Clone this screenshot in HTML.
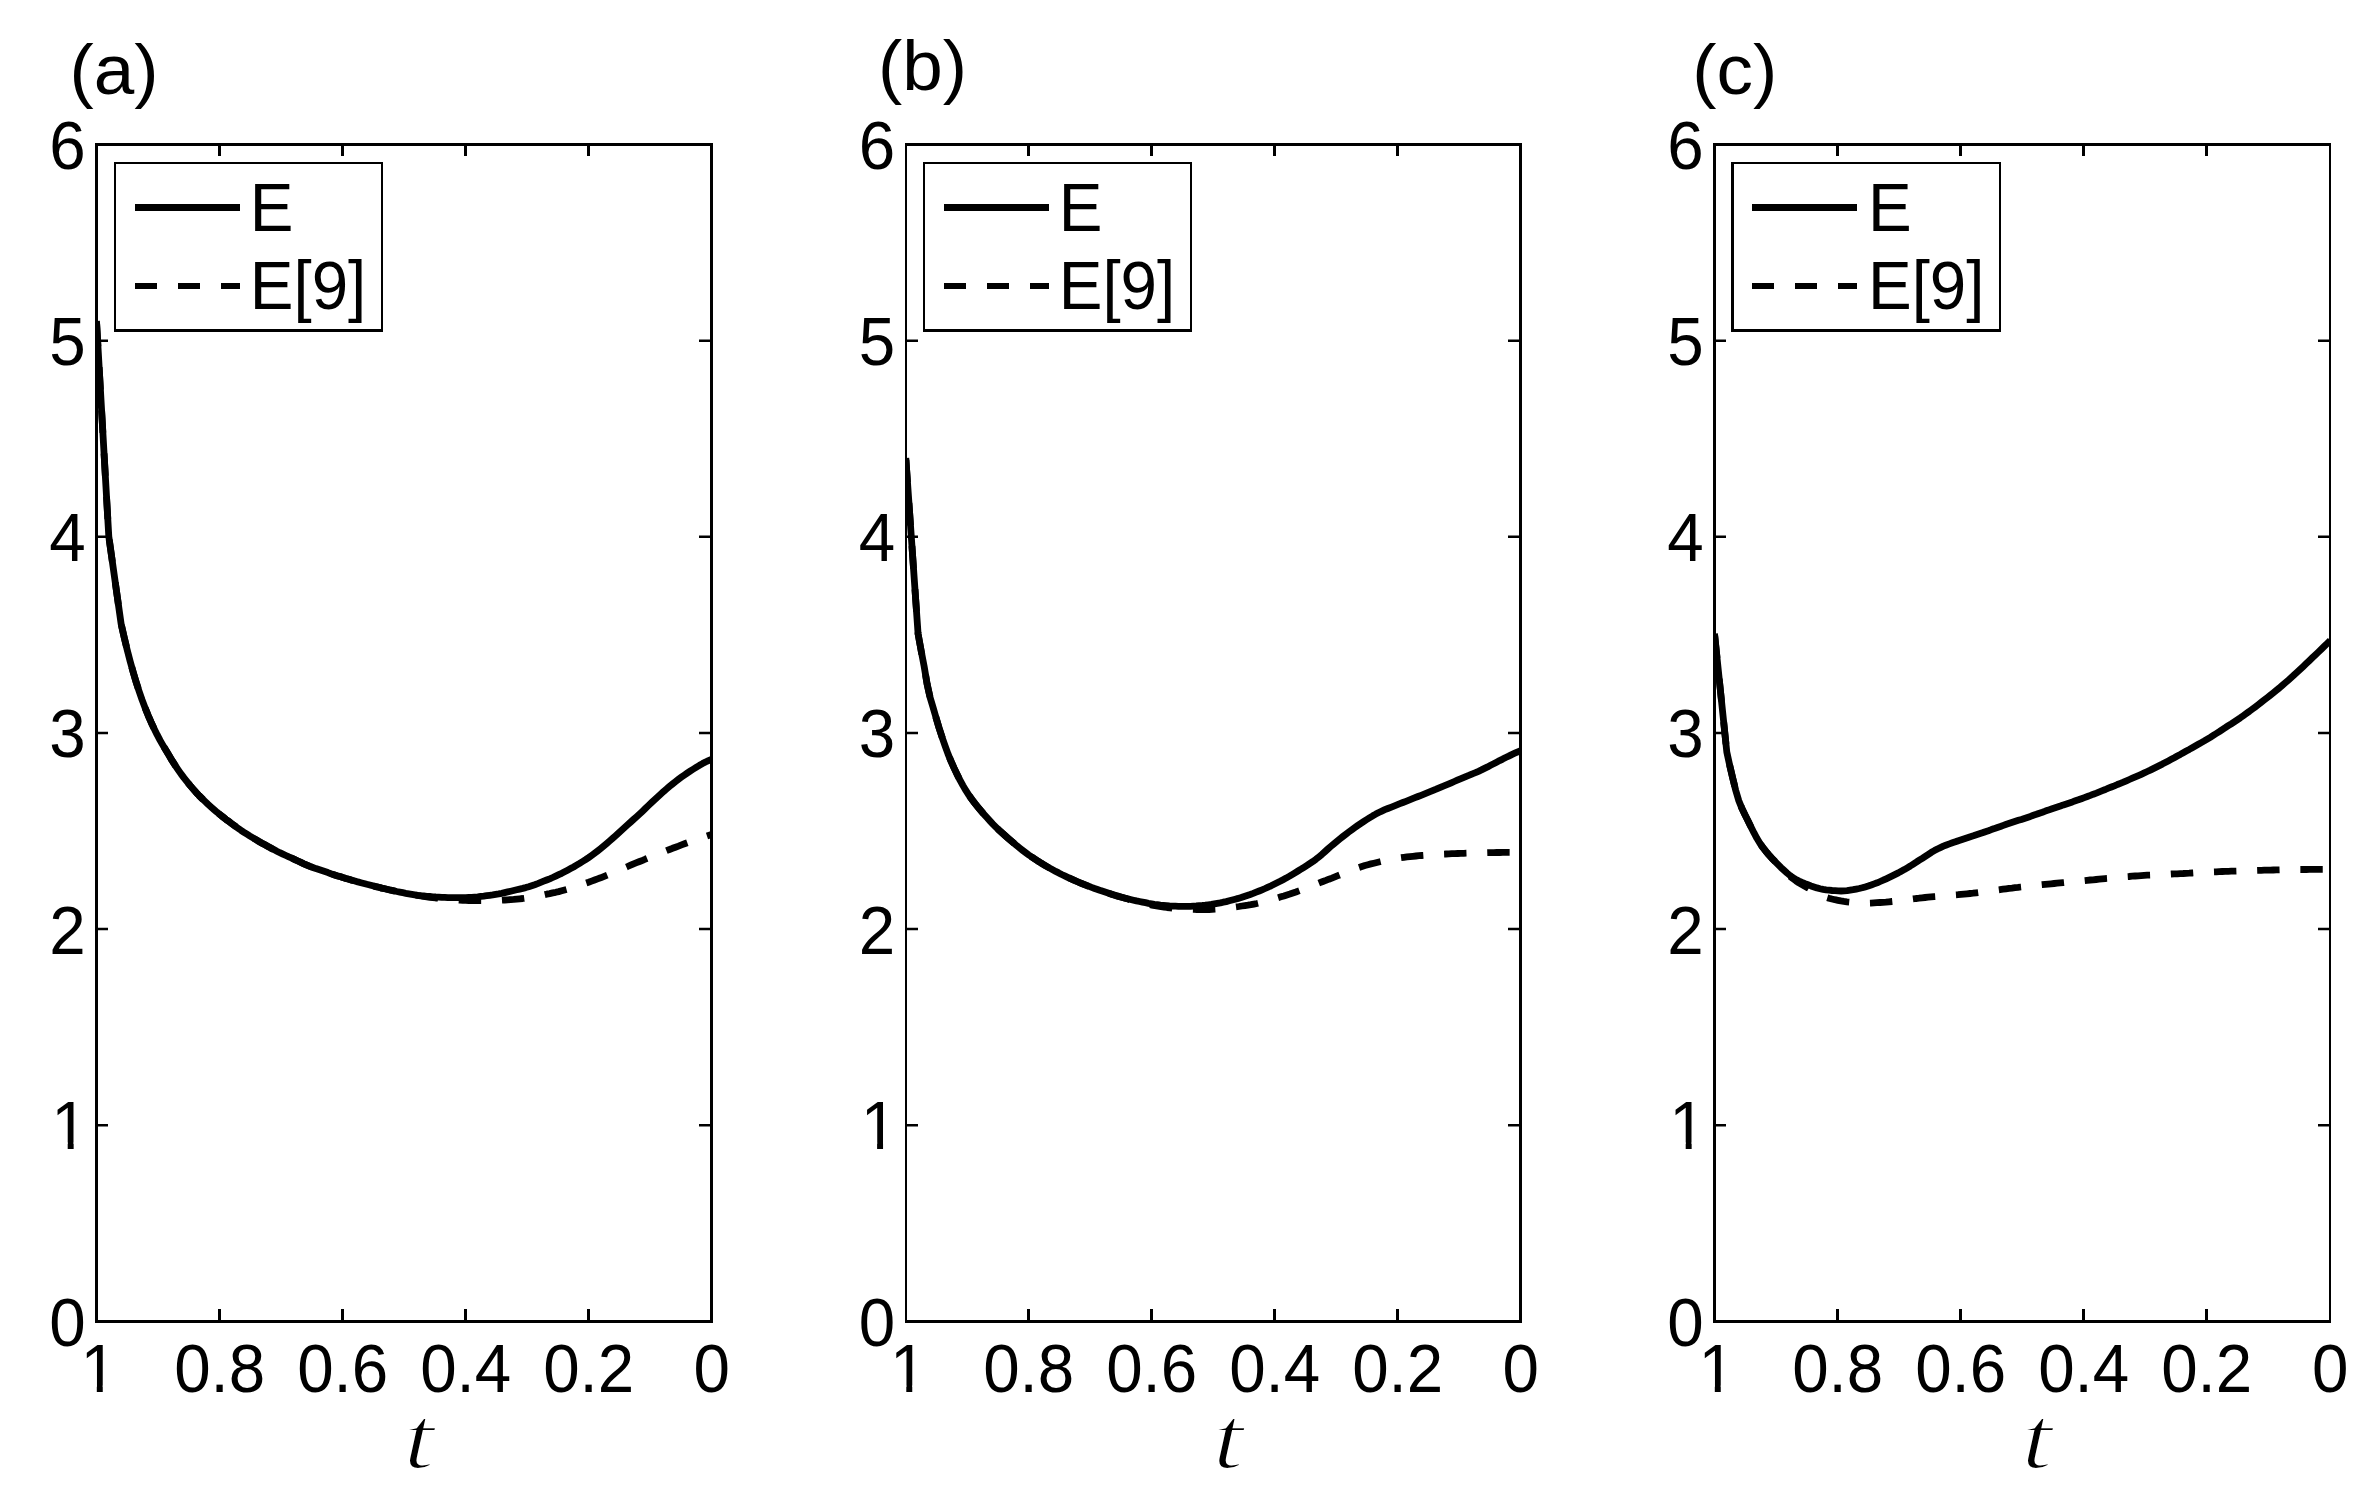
<!DOCTYPE html>
<html lang="en">
<head>
<meta charset="utf-8">
<title>E versus t</title>
<style>
html,body{margin:0;padding:0;background:#fff;}
body{width:2364px;height:1500px;overflow:hidden;}
svg{display:block;}
.fr{fill:#000;stroke:none;shape-rendering:crispEdges;}
.ht{fill:#000;stroke:none;}
.cv{fill:none;stroke:#000;stroke-width:6.8;stroke-linejoin:round;stroke-linecap:butt;}
.tk{font-family:"Liberation Sans", sans-serif;font-size:65.5px;fill:#000;}
.pl{font-family:"Liberation Sans", sans-serif;font-size:72px;fill:#000;}
.tl{font-family:"Liberation Serif", serif;font-style:italic;font-size:80px;fill:#000;stroke:#fff;stroke-width:1.8;}
</style>
</head>
<body>
<svg width="2364" height="1500" viewBox="0 0 2364 1500">
<rect x="0" y="0" width="2364" height="1500" fill="#fff"/>
<defs><clipPath id="nofoot"><path d="M-2,-52H40V-6.3H22.35V3H16.4V-6.3H-2Z"/></clipPath></defs>
<g id="panel-a">
<clipPath id="clip0"><rect x="95" y="143" width="618" height="1180"/></clipPath>
<g clip-path="url(#clip0)">
<path class="cv" d="M96.5,321.0 L108.8,536.5 L121.1,623.8 L124.1,637.0 L127.1,649.5 L130.1,661.1 L133.1,671.9 L136.1,681.9 L139.1,691.2 L142.1,699.9 L145.1,707.9 L148.1,715.3 L151.1,722.2 L154.1,728.6 L157.1,734.7 L160.1,740.4 L163.1,745.6 L166.1,750.6 L169.1,755.5 L172.0,760.4 L175.0,765.1 L178.0,769.6 L181.0,773.9 L184.0,777.9 L187.0,781.7 L190.0,785.4 L193.0,788.9 L196.0,792.3 L199.0,795.5 L202.0,798.5 L205.0,801.4 L208.0,804.3 L211.0,807.0 L214.0,809.6 L217.0,812.2 L220.0,814.6 L223.0,817.0 L226.0,819.4 L229.0,821.6 L232.0,823.9 L235.0,826.1 L238.0,828.2 L241.0,830.3 L244.0,832.3 L247.0,834.2 L250.0,836.1 L253.0,837.9 L256.0,839.7 L259.0,841.5 L262.0,843.2 L265.0,844.8 L268.0,846.5 L270.9,848.1 L273.9,849.6 L276.9,851.2 L279.9,852.7 L282.9,854.1 L285.9,855.5 L288.9,856.9 L291.9,858.2 L294.9,859.6 L297.9,861.0 L300.9,862.4 L303.9,863.8 L306.9,865.1 L309.9,866.4 L312.9,867.5 L315.9,868.6 L318.9,869.6 L321.9,870.6 L324.9,871.6 L327.9,872.6 L330.9,873.7 L333.9,874.7 L336.9,875.7 L339.9,876.6 L342.9,877.6 L345.9,878.5 L348.9,879.3 L351.9,880.2 L354.9,881.0 L357.9,881.9 L360.9,882.7 L363.9,883.5 L366.9,884.3 L369.8,885.0 L372.8,885.8 L375.8,886.6 L378.8,887.3 L381.8,888.1 L384.8,888.8 L387.8,889.5 L390.8,890.2 L393.8,890.8 L396.8,891.5 L399.8,892.1 L402.8,892.7 L405.8,893.3 L408.8,893.8 L411.8,894.3 L414.8,894.8 L417.8,895.3 L420.8,895.7 L423.8,896.0 L426.8,896.3 L429.8,896.5 L432.8,896.8 L435.8,897.0 L438.8,897.1 L441.8,897.3 L444.8,897.4 L447.8,897.6 L450.8,897.7 L453.8,897.7 L456.8,897.7 L459.8,897.7 L462.8,897.6 L465.7,897.6 L468.7,897.5 L471.7,897.4 L474.7,897.1 L477.7,896.8 L480.7,896.4 L483.7,896.1 L486.7,895.7 L489.7,895.3 L492.7,894.9 L495.7,894.4 L498.7,893.9 L501.7,893.3 L504.7,892.6 L507.7,891.9 L510.7,891.2 L513.7,890.5 L516.7,889.8 L519.7,889.1 L522.7,888.4 L525.7,887.6 L528.7,886.7 L531.7,885.7 L534.7,884.7 L537.7,883.6 L540.7,882.4 L543.7,881.2 L546.7,880.0 L549.7,878.8 L552.7,877.5 L555.7,876.1 L558.7,874.7 L561.7,873.3 L564.6,871.8 L567.6,870.2 L570.6,868.6 L573.6,867.0 L576.6,865.2 L579.6,863.4 L582.6,861.5 L585.6,859.6 L588.6,857.6 L591.6,855.5 L594.6,853.3 L597.6,851.0 L600.6,848.6 L603.6,846.1 L606.6,843.6 L609.6,841.0 L612.6,838.4 L615.6,835.7 L618.6,832.9 L621.6,830.2 L624.6,827.5 L627.6,824.8 L630.6,822.1 L633.6,819.4 L636.6,816.7 L639.6,814.0 L642.6,811.2 L645.6,808.3 L648.6,805.4 L651.6,802.5 L654.6,799.7 L657.6,797.0 L660.6,794.3 L663.5,791.6 L666.5,789.0 L669.5,786.4 L672.5,784.0 L675.5,781.6 L678.5,779.3 L681.5,777.1 L684.5,775.0 L687.5,772.9 L690.5,770.9 L693.5,769.0 L696.5,767.1 L699.5,765.3 L702.5,763.6 L705.5,762.0 L708.5,760.6 L711.5,759.3"/>
<path class="cv" stroke-dasharray="22.4 20.8" stroke-dashoffset="40.1" d="M96.5,321.0 L108.8,536.5 L121.1,623.8 L124.1,637.0 L127.1,649.5 L130.1,661.1 L133.1,671.9 L136.1,681.9 L139.1,691.2 L142.1,699.9 L145.1,707.9 L148.1,715.3 L151.1,722.2 L154.1,728.6 L157.1,734.7 L160.1,740.4 L163.1,745.6 L166.1,750.6 L169.1,755.5 L172.0,760.4 L175.0,765.1 L178.0,769.6 L181.0,773.9 L184.0,777.9 L187.0,781.7 L190.0,785.4 L193.0,788.9 L196.0,792.3 L199.0,795.5 L202.0,798.5 L205.0,801.4 L208.0,804.3 L211.0,807.0 L214.0,809.6 L217.0,812.2 L220.0,814.6 L223.0,817.0 L226.0,819.4 L229.0,821.6 L232.0,823.9 L235.0,826.1 L238.0,828.2 L241.0,830.3 L244.0,832.3 L247.0,834.2 L250.0,836.1 L253.0,837.9 L256.0,839.7 L259.0,841.5 L262.0,843.2 L265.0,844.8 L268.0,846.5 L270.9,848.1 L273.9,849.6 L276.9,851.2 L279.9,852.7 L282.9,854.1 L285.9,855.5 L288.9,856.9 L291.9,858.2 L294.9,859.6 L297.9,861.0 L300.9,862.4 L303.9,863.8 L306.9,865.1 L309.9,866.4 L312.9,867.5 L315.9,868.6 L318.9,869.6 L321.9,870.6 L324.9,871.6 L327.9,872.6 L330.9,873.7 L333.9,874.7 L336.9,875.7 L339.9,876.6 L342.9,877.6 L345.9,878.5 L348.9,879.3 L351.9,880.2 L354.9,881.0 L357.9,881.9 L360.9,882.7 L363.9,883.5 L366.9,884.3 L369.8,885.0 L372.8,885.8 L375.8,886.6 L378.8,887.3 L381.8,888.1 L384.8,888.8 L387.8,889.5 L390.8,890.2 L393.8,890.8 L396.8,891.5 L399.8,892.1 L402.8,892.7 L405.8,893.3 L408.8,893.8 L411.8,894.4 L414.8,895.0 L417.8,895.5 L420.8,896.0 L423.8,896.5 L426.8,896.9 L429.8,897.3 L432.8,897.6 L435.8,898.0 L438.8,898.3 L441.8,898.6 L444.8,898.8 L447.8,899.1 L450.8,899.4 L453.8,899.7 L456.8,899.9 L459.8,900.1 L462.8,900.3 L465.7,900.4 L468.7,900.5 L471.7,900.5 L474.7,900.5 L477.7,900.6 L480.7,900.6 L483.7,900.6 L486.7,900.6 L489.7,900.6 L492.7,900.6 L495.7,900.5 L498.7,900.4 L501.7,900.2 L504.7,900.0 L507.7,899.8 L510.7,899.6 L513.7,899.4 L516.7,899.1 L519.7,898.8 L522.7,898.5 L525.7,898.1 L528.7,897.6 L531.7,897.1 L534.7,896.6 L537.7,896.0 L540.7,895.5 L543.7,894.9 L546.7,894.2 L549.7,893.6 L552.7,892.9 L555.7,892.3 L558.7,891.6 L561.7,890.8 L564.6,890.0 L567.6,889.2 L570.6,888.3 L573.6,887.3 L576.6,886.3 L579.6,885.3 L582.6,884.3 L585.6,883.2 L588.6,882.2 L591.6,881.1 L594.6,880.0 L597.6,878.9 L600.6,877.8 L603.6,876.6 L606.6,875.4 L609.6,874.2 L612.6,872.9 L615.6,871.7 L618.6,870.4 L621.6,869.1 L624.6,867.8 L627.6,866.5 L630.6,865.2 L633.6,863.9 L636.6,862.7 L639.6,861.5 L642.6,860.3 L645.6,859.0 L648.6,857.8 L651.6,856.6 L654.6,855.4 L657.6,854.2 L660.6,853.0 L663.5,851.8 L666.5,850.6 L669.5,849.5 L672.5,848.3 L675.5,847.2 L678.5,846.1 L681.5,844.9 L684.5,843.8 L687.5,842.7 L690.5,841.7 L693.5,840.6 L696.5,839.5 L699.5,838.5 L702.5,837.5 L705.5,836.4 L708.5,835.4 L711.5,834.4"/>
</g>
<path class="fr" d="M95,143H98V1323H95ZM710,143H713V1323H710ZM95,143H713V146H95ZM95,1320H713V1323H95ZM218,146H221V156H218ZM218,1309H221V1320H218ZM341,146H344V156H341ZM341,1309H344V1320H341ZM464,146H467V156H464ZM464,1309H467V1320H464ZM587,146H590V156H587ZM587,1309H590V1320H587Z"/>
<path class="ht" d="M98,1123.93H108V1126.43H98ZM699,1123.93H710V1126.43H699ZM98,927.82H108V930.32H98ZM699,927.82H710V930.32H699ZM98,731.70H108V734.20H98ZM699,731.70H710V734.20H699ZM98,535.58H108V538.08H98ZM699,535.58H710V538.08H699ZM98,339.47H108V341.97H98ZM699,339.47H710V341.97H699Z"/>
<text class="tk" text-anchor="end" transform="translate(85.8,1346.2) scale(1.0,1.042)">0</text>
<text class="tk" clip-path="url(#nofoot)" transform="translate(51.3,1149.0) scale(1.0,1.042)">1</text>
<text class="tk" text-anchor="end" transform="translate(85.8,953.5) scale(1.0,1.042)">2</text>
<text class="tk" text-anchor="end" transform="translate(85.8,757.3) scale(1.0,1.042)">3</text>
<text class="tk" text-anchor="end" transform="translate(85.8,560.9) scale(1.0,1.042)">4</text>
<text class="tk" text-anchor="end" transform="translate(85.8,365.1) scale(1.0,1.042)">5</text>
<text class="tk" text-anchor="end" transform="translate(85.8,169.3) scale(1.0,1.042)">6</text>
<text class="tk" clip-path="url(#nofoot)" transform="translate(80.4,1392.1) scale(1.0,1.042)">1</text>
<text class="tk" text-anchor="middle" transform="translate(219.7,1392.1) scale(1.0,1.042)">0.8</text>
<text class="tk" text-anchor="middle" transform="translate(342.7,1392.1) scale(1.0,1.042)">0.6</text>
<text class="tk" text-anchor="middle" transform="translate(465.7,1392.1) scale(1.0,1.042)">0.4</text>
<text class="tk" text-anchor="middle" transform="translate(588.7,1392.1) scale(1.0,1.042)">0.2</text>
<text class="tk" text-anchor="middle" transform="translate(711.7,1392.1) scale(1.0,1.042)">0</text>
<text class="tl" transform="translate(403.4,1467.8) scale(1.38,1.12)">t</text>
<text class="pl" transform="translate(69.5,93.7) scale(1.012,0.985)">(a)</text>
<path class="fr" fill-rule="evenodd" d="M114,162H383V332H114ZM116,164H381V329H116Z"/>
<path class="fr" d="M135,204H240V211H135ZM135,283H157V289H135ZM178,283H200V289H178ZM221,283H240V289H221Z"/>
<text class="tk" transform="translate(249.8,231.0) scale(1.0,1.042)">E</text>
<text class="tk" transform="translate(249.8,308.8) scale(1.0,1.042)">E[9]</text>
</g>
<g id="panel-b">
<clipPath id="clip1"><rect x="905" y="143" width="617" height="1180"/></clipPath>
<g clip-path="url(#clip1)">
<path class="cv" d="M905.8,458.0 L918.1,634.0 L921.1,650.5 L924.1,666.1 L927.1,684.0 L930.1,697.5 L933.1,707.5 L936.1,717.9 L939.0,727.8 L942.0,737.0 L945.0,745.7 L948.0,753.9 L951.0,761.2 L954.0,767.9 L957.0,774.2 L960.0,780.1 L963.0,785.6 L966.0,790.7 L969.0,795.3 L972.0,799.5 L974.9,803.4 L977.9,807.1 L980.9,810.7 L983.9,814.2 L986.9,817.6 L989.9,820.9 L992.9,824.1 L995.9,827.1 L998.9,830.0 L1001.9,832.8 L1004.9,835.4 L1007.9,838.1 L1010.8,840.6 L1013.8,843.1 L1016.8,845.7 L1019.8,848.1 L1022.8,850.5 L1025.8,852.8 L1028.8,855.0 L1031.8,857.0 L1034.8,859.0 L1037.8,861.0 L1040.8,862.8 L1043.8,864.7 L1046.7,866.4 L1049.7,868.1 L1052.7,869.8 L1055.7,871.4 L1058.7,872.9 L1061.7,874.5 L1064.7,875.9 L1067.7,877.4 L1070.7,878.7 L1073.7,880.1 L1076.7,881.4 L1079.7,882.6 L1082.6,883.9 L1085.6,885.1 L1088.6,886.2 L1091.6,887.4 L1094.6,888.5 L1097.6,889.5 L1100.6,890.6 L1103.6,891.6 L1106.6,892.6 L1109.6,893.6 L1112.6,894.6 L1115.5,895.5 L1118.5,896.4 L1121.5,897.2 L1124.5,898.0 L1127.5,898.8 L1130.5,899.5 L1133.5,900.2 L1136.5,900.9 L1139.5,901.5 L1142.5,902.1 L1145.5,902.7 L1148.5,903.3 L1151.5,903.8 L1154.4,904.3 L1157.4,904.7 L1160.4,905.1 L1163.4,905.4 L1166.4,905.7 L1169.4,906.0 L1172.4,906.1 L1175.4,906.2 L1178.4,906.3 L1181.4,906.3 L1184.4,906.4 L1187.3,906.4 L1190.3,906.4 L1193.3,906.2 L1196.3,906.0 L1199.3,905.7 L1202.3,905.5 L1205.3,905.2 L1208.3,904.8 L1211.3,904.4 L1214.3,903.9 L1217.3,903.4 L1220.3,902.9 L1223.2,902.2 L1226.2,901.6 L1229.2,900.8 L1232.2,900.0 L1235.2,899.2 L1238.2,898.4 L1241.2,897.5 L1244.2,896.5 L1247.2,895.5 L1250.2,894.5 L1253.2,893.4 L1256.2,892.2 L1259.2,891.0 L1262.1,889.8 L1265.1,888.5 L1268.1,887.1 L1271.1,885.8 L1274.1,884.3 L1277.1,882.8 L1280.1,881.3 L1283.1,879.7 L1286.1,878.1 L1289.1,876.4 L1292.1,874.6 L1295.0,872.8 L1298.0,871.0 L1301.0,869.2 L1304.0,867.3 L1307.0,865.4 L1310.0,863.4 L1313.0,861.4 L1316.0,859.2 L1319.0,856.8 L1322.0,854.3 L1325.0,851.6 L1328.0,848.9 L1331.0,846.3 L1333.9,843.8 L1336.9,841.3 L1339.9,838.9 L1342.9,836.5 L1345.9,834.2 L1348.9,831.9 L1351.9,829.7 L1354.9,827.5 L1357.9,825.4 L1360.9,823.4 L1363.9,821.4 L1366.8,819.5 L1369.8,817.6 L1372.8,815.8 L1375.8,814.1 L1378.8,812.5 L1381.8,811.1 L1384.8,809.7 L1387.8,808.5 L1390.8,807.3 L1393.9,806.1 L1396.9,804.9 L1399.9,803.7 L1402.9,802.5 L1406.0,801.3 L1409.0,800.1 L1412.0,798.9 L1415.0,797.7 L1418.0,796.5 L1421.1,795.3 L1424.1,794.1 L1427.1,792.9 L1430.1,791.7 L1433.2,790.4 L1436.2,789.2 L1439.2,787.9 L1442.2,786.6 L1445.2,785.4 L1448.3,784.1 L1451.3,782.8 L1454.3,781.5 L1457.3,780.2 L1460.4,778.9 L1463.4,777.6 L1466.4,776.3 L1469.4,775.1 L1472.4,773.8 L1475.5,772.6 L1478.5,771.3 L1481.5,769.9 L1484.5,768.4 L1487.6,766.9 L1490.6,765.3 L1493.6,763.8 L1496.6,762.2 L1499.6,760.6 L1502.7,759.1 L1505.7,757.5 L1508.7,756.1 L1511.7,754.6 L1514.8,753.2 L1517.8,751.8 L1520.8,750.5"/>
<path class="cv" stroke-dasharray="22.4 20.8" stroke-dashoffset="41.3" d="M905.8,458.0 L918.1,634.0 L921.1,650.5 L924.1,666.2 L927.1,684.1 L930.1,697.6 L933.1,707.6 L936.1,718.0 L939.1,728.0 L942.1,737.2 L945.1,745.9 L948.1,754.1 L951.1,761.4 L954.1,768.1 L957.1,774.4 L960.1,780.3 L963.1,785.8 L966.1,790.8 L969.1,795.5 L972.1,799.7 L975.1,803.6 L978.1,807.3 L981.1,810.9 L984.1,814.4 L987.1,817.8 L990.1,821.1 L993.1,824.2 L996.1,827.3 L999.1,830.2 L1002.1,832.9 L1005.1,835.6 L1008.1,838.2 L1011.1,840.8 L1014.1,843.3 L1017.1,845.8 L1020.0,848.3 L1023.0,850.7 L1026.0,853.0 L1029.0,855.1 L1032.0,857.2 L1035.0,859.2 L1038.0,861.1 L1041.0,863.0 L1044.0,864.8 L1047.0,866.6 L1050.0,868.3 L1053.0,869.9 L1056.0,871.5 L1059.0,873.1 L1062.0,874.6 L1065.0,876.1 L1068.0,877.5 L1071.0,878.9 L1074.0,880.2 L1077.0,881.5 L1080.0,882.8 L1083.0,884.0 L1086.0,885.2 L1089.0,886.4 L1092.0,887.5 L1095.0,888.6 L1098.0,889.7 L1101.0,890.8 L1104.0,891.8 L1107.0,892.8 L1110.0,893.7 L1113.0,894.7 L1116.0,895.6 L1119.0,896.4 L1122.0,897.3 L1125.0,898.2 L1128.0,899.1 L1131.0,900.1 L1134.0,901.0 L1137.0,901.9 L1140.0,902.6 L1143.0,903.3 L1146.0,903.9 L1149.0,904.5 L1152.0,905.1 L1155.0,905.7 L1158.0,906.2 L1161.0,906.7 L1164.0,907.1 L1167.0,907.5 L1170.0,907.8 L1173.0,908.1 L1176.0,908.3 L1179.0,908.5 L1182.0,908.7 L1185.0,908.9 L1188.0,909.1 L1191.0,909.3 L1194.0,909.4 L1197.0,909.5 L1200.0,909.6 L1203.0,909.6 L1206.0,909.6 L1209.0,909.5 L1212.0,909.4 L1215.0,909.2 L1218.0,909.0 L1220.9,908.7 L1223.9,908.4 L1226.9,908.1 L1229.9,907.7 L1232.9,907.3 L1235.9,906.9 L1238.9,906.5 L1241.9,906.0 L1244.9,905.6 L1247.9,905.2 L1250.9,904.7 L1253.9,904.1 L1256.9,903.5 L1259.9,902.8 L1262.9,902.0 L1265.9,901.2 L1268.9,900.4 L1271.9,899.5 L1274.9,898.6 L1277.9,897.7 L1280.9,896.8 L1283.9,895.9 L1286.9,894.9 L1289.9,894.0 L1292.9,893.0 L1295.9,892.0 L1298.9,890.9 L1301.9,889.8 L1304.9,888.7 L1307.9,887.5 L1310.9,886.3 L1313.9,885.1 L1316.9,883.9 L1319.9,882.7 L1322.9,881.5 L1325.9,880.4 L1328.9,879.2 L1331.9,878.1 L1334.9,876.9 L1337.9,875.7 L1340.9,874.5 L1343.9,873.3 L1346.9,872.1 L1349.9,870.9 L1352.9,869.7 L1355.9,868.6 L1358.9,867.5 L1361.9,866.5 L1364.9,865.5 L1367.9,864.7 L1370.9,863.9 L1373.9,863.2 L1376.9,862.5 L1379.9,861.8 L1382.9,861.1 L1385.9,860.5 L1388.9,859.9 L1391.9,859.3 L1394.9,858.7 L1397.9,858.2 L1400.9,857.7 L1403.9,857.3 L1406.9,856.9 L1409.9,856.6 L1412.9,856.3 L1415.9,856.0 L1418.9,855.7 L1421.8,855.5 L1424.8,855.3 L1427.8,855.0 L1430.8,854.8 L1433.8,854.6 L1436.8,854.5 L1439.8,854.3 L1442.8,854.1 L1445.8,854.0 L1448.8,853.9 L1451.8,853.7 L1454.8,853.6 L1457.8,853.5 L1460.8,853.4 L1463.8,853.3 L1466.8,853.2 L1469.8,853.1 L1472.8,853.1 L1475.8,853.0 L1478.8,852.9 L1481.8,852.8 L1484.8,852.8 L1487.8,852.7 L1490.8,852.7 L1493.8,852.6 L1496.8,852.5 L1499.8,852.5 L1502.8,852.4 L1505.8,852.4 L1508.8,852.3 L1511.8,852.3 L1514.8,852.3 L1517.8,852.2 L1520.8,852.2"/>
</g>
<path class="fr" d="M905,143H907V1323H905ZM1519,143H1522V1323H1519ZM905,143H1522V146H905ZM905,1320H1522V1323H905ZM1027,146H1030V156H1027ZM1027,1309H1030V1320H1027ZM1150,146H1153V156H1150ZM1150,1309H1153V1320H1150ZM1273,146H1276V156H1273ZM1273,1309H1276V1320H1273ZM1396,146H1399V156H1396ZM1396,1309H1399V1320H1396Z"/>
<path class="ht" d="M907,1123.93H918V1126.43H907ZM1508,1123.93H1519V1126.43H1508ZM907,927.82H918V930.32H907ZM1508,927.82H1519V930.32H1508ZM907,731.70H918V734.20H907ZM1508,731.70H1519V734.20H1508ZM907,535.58H918V538.08H907ZM1508,535.58H1519V538.08H1508ZM907,339.47H918V341.97H907ZM1508,339.47H1519V341.97H1508Z"/>
<text class="tk" text-anchor="end" transform="translate(895.2,1346.2) scale(1.0,1.042)">0</text>
<text class="tk" clip-path="url(#nofoot)" transform="translate(860.7,1149.0) scale(1.0,1.042)">1</text>
<text class="tk" text-anchor="end" transform="translate(895.2,953.5) scale(1.0,1.042)">2</text>
<text class="tk" text-anchor="end" transform="translate(895.2,757.3) scale(1.0,1.042)">3</text>
<text class="tk" text-anchor="end" transform="translate(895.2,560.9) scale(1.0,1.042)">4</text>
<text class="tk" text-anchor="end" transform="translate(895.2,365.1) scale(1.0,1.042)">5</text>
<text class="tk" text-anchor="end" transform="translate(895.2,169.3) scale(1.0,1.042)">6</text>
<text class="tk" clip-path="url(#nofoot)" transform="translate(889.9,1392.1) scale(1.0,1.042)">1</text>
<text class="tk" text-anchor="middle" transform="translate(1028.7,1392.1) scale(1.0,1.042)">0.8</text>
<text class="tk" text-anchor="middle" transform="translate(1151.7,1392.1) scale(1.0,1.042)">0.6</text>
<text class="tk" text-anchor="middle" transform="translate(1274.7,1392.1) scale(1.0,1.042)">0.4</text>
<text class="tk" text-anchor="middle" transform="translate(1397.7,1392.1) scale(1.0,1.042)">0.2</text>
<text class="tk" text-anchor="middle" transform="translate(1520.7,1392.1) scale(1.0,1.042)">0</text>
<text class="tl" transform="translate(1212.8,1467.8) scale(1.38,1.12)">t</text>
<text class="pl" transform="translate(877.9,89.6) scale(1.012,0.985)">(b)</text>
<path class="fr" fill-rule="evenodd" d="M923,162H1192V332H923ZM925,164H1190V329H925Z"/>
<path class="fr" d="M944,204H1049V211H944ZM944,283H966V289H944ZM987,283H1009V289H987ZM1030,283H1049V289H1030Z"/>
<text class="tk" transform="translate(1058.7,231.0) scale(1.0,1.042)">E</text>
<text class="tk" transform="translate(1058.7,308.8) scale(1.0,1.042)">E[9]</text>
</g>
<g id="panel-c">
<clipPath id="clip2"><rect x="1713" y="143" width="618" height="1180"/></clipPath>
<g clip-path="url(#clip2)">
<path class="cv" d="M1714.5,633.6 L1726.8,752.0 L1729.8,765.8 L1732.8,778.5 L1735.8,790.6 L1738.8,800.7 L1741.8,808.1 L1744.8,814.5 L1747.9,820.5 L1750.9,826.7 L1753.9,832.7 L1756.9,838.3 L1759.9,843.2 L1762.9,847.5 L1765.9,851.4 L1768.9,855.0 L1771.9,858.3 L1774.9,861.4 L1777.9,864.4 L1780.9,867.4 L1784.0,870.3 L1787.0,873.0 L1790.0,875.5 L1793.0,877.7 L1796.0,879.4 L1799.0,881.0 L1802.0,882.4 L1805.0,883.7 L1808.0,884.8 L1811.0,885.9 L1814.0,886.9 L1817.0,887.9 L1820.1,888.7 L1823.1,889.4 L1826.1,889.9 L1829.1,890.2 L1832.1,890.5 L1835.1,890.7 L1838.1,890.9 L1841.1,891.0 L1844.1,890.9 L1847.1,890.7 L1850.1,890.2 L1853.1,889.7 L1856.2,889.1 L1859.2,888.5 L1862.2,887.8 L1865.2,886.9 L1868.2,886.0 L1871.2,885.0 L1874.2,883.9 L1877.2,882.8 L1880.2,881.5 L1883.2,880.2 L1886.2,878.8 L1889.2,877.4 L1892.3,875.9 L1895.3,874.4 L1898.3,872.9 L1901.3,871.2 L1904.3,869.6 L1907.3,867.8 L1910.3,866.0 L1913.3,864.1 L1916.3,862.2 L1919.3,860.2 L1922.3,858.3 L1925.3,856.3 L1928.4,854.3 L1931.4,852.3 L1934.4,850.6 L1937.4,849.0 L1940.4,847.6 L1943.4,846.2 L1946.4,845.0 L1949.4,843.9 L1952.4,842.8 L1955.4,841.8 L1958.4,840.7 L1961.4,839.7 L1964.4,838.7 L1967.4,837.7 L1970.4,836.7 L1973.4,835.8 L1976.4,834.8 L1979.4,833.8 L1982.4,832.8 L1985.4,831.7 L1988.4,830.7 L1991.4,829.6 L1994.4,828.6 L1997.4,827.5 L2000.4,826.5 L2003.4,825.4 L2006.4,824.3 L2009.4,823.3 L2012.4,822.3 L2015.4,821.3 L2018.4,820.3 L2021.4,819.4 L2024.4,818.4 L2027.4,817.4 L2030.4,816.4 L2033.4,815.3 L2036.4,814.3 L2039.4,813.2 L2042.4,812.2 L2045.4,811.1 L2048.4,810.1 L2051.4,809.0 L2054.4,808.0 L2057.4,807.0 L2060.4,806.0 L2063.4,804.9 L2066.4,803.9 L2069.4,802.9 L2072.4,801.9 L2075.4,800.8 L2078.4,799.8 L2081.4,798.7 L2084.4,797.6 L2087.4,796.5 L2090.4,795.4 L2093.4,794.2 L2096.4,793.1 L2099.4,791.9 L2102.4,790.7 L2105.4,789.5 L2108.4,788.2 L2111.4,787.0 L2114.4,785.8 L2117.4,784.5 L2120.4,783.3 L2123.4,782.1 L2126.4,780.8 L2129.4,779.5 L2132.4,778.2 L2135.4,776.9 L2138.4,775.6 L2141.3,774.3 L2144.3,772.9 L2147.3,771.5 L2150.3,770.1 L2153.3,768.6 L2156.3,767.1 L2159.3,765.6 L2162.3,764.1 L2165.3,762.5 L2168.3,760.9 L2171.3,759.3 L2174.3,757.7 L2177.3,756.0 L2180.3,754.4 L2183.3,752.7 L2186.3,751.0 L2189.3,749.4 L2192.3,747.7 L2195.3,746.0 L2198.3,744.3 L2201.3,742.6 L2204.3,740.9 L2207.3,739.1 L2210.3,737.3 L2213.3,735.4 L2216.3,733.5 L2219.3,731.6 L2222.3,729.6 L2225.3,727.7 L2228.3,725.7 L2231.3,723.8 L2234.3,721.8 L2237.3,719.8 L2240.3,717.8 L2243.3,715.7 L2246.3,713.5 L2249.3,711.4 L2252.3,709.1 L2255.3,706.9 L2258.3,704.6 L2261.3,702.3 L2264.3,699.9 L2267.3,697.6 L2270.3,695.3 L2273.3,692.9 L2276.3,690.4 L2279.3,688.0 L2282.3,685.4 L2285.3,682.8 L2288.3,680.2 L2291.3,677.5 L2294.3,674.7 L2297.3,672.0 L2300.3,669.2 L2303.3,666.4 L2306.3,663.6 L2309.3,660.7 L2312.3,657.8 L2315.3,655.0 L2318.3,652.1 L2321.3,649.2 L2324.3,646.3 L2327.3,643.4 L2330.3,640.5"/>
<path class="cv" stroke-dasharray="22.4 20.8" stroke-dashoffset="40.9" d="M1714.5,633.6 L1726.8,752.0 L1729.8,765.8 L1732.8,778.5 L1735.8,790.6 L1738.8,800.6 L1741.8,808.1 L1744.8,814.4 L1747.8,820.4 L1750.8,826.6 L1753.8,832.6 L1756.8,838.2 L1759.8,843.2 L1762.8,847.4 L1765.8,851.2 L1768.8,854.8 L1771.8,858.1 L1774.8,861.2 L1777.8,864.3 L1780.8,867.4 L1783.8,870.5 L1786.8,873.4 L1789.9,876.2 L1792.9,878.6 L1795.9,880.8 L1798.9,882.8 L1801.9,884.6 L1804.9,886.3 L1807.9,887.9 L1810.9,889.6 L1813.9,891.4 L1816.9,893.1 L1819.9,894.7 L1822.9,896.2 L1825.9,897.3 L1828.9,898.2 L1831.9,899.0 L1834.9,899.7 L1837.9,900.3 L1840.9,900.9 L1843.9,901.4 L1846.9,901.8 L1849.9,902.1 L1852.9,902.4 L1855.9,902.7 L1858.9,902.9 L1861.9,903.1 L1864.9,903.2 L1867.9,903.2 L1870.9,903.1 L1873.9,902.9 L1876.9,902.7 L1879.9,902.5 L1882.9,902.3 L1885.9,902.1 L1888.9,901.8 L1891.9,901.5 L1894.9,901.2 L1897.9,900.8 L1900.9,900.5 L1903.9,900.1 L1906.9,899.7 L1910.0,899.3 L1913.0,898.9 L1916.0,898.5 L1919.0,898.2 L1922.0,897.8 L1925.0,897.5 L1928.0,897.2 L1931.0,896.9 L1934.0,896.6 L1937.0,896.4 L1940.0,896.1 L1943.0,895.9 L1946.0,895.6 L1949.0,895.4 L1952.0,895.2 L1955.0,894.9 L1958.0,894.7 L1961.0,894.4 L1964.0,894.1 L1967.0,893.8 L1970.0,893.5 L1973.0,893.2 L1976.0,892.8 L1979.0,892.4 L1982.0,892.0 L1985.0,891.6 L1988.0,891.2 L1991.0,890.8 L1994.0,890.4 L1997.0,890.0 L2000.0,889.6 L2003.0,889.2 L2006.0,888.8 L2009.0,888.4 L2012.0,888.1 L2015.0,887.7 L2018.0,887.4 L2021.0,887.0 L2024.0,886.7 L2027.0,886.3 L2030.1,886.0 L2033.1,885.7 L2036.1,885.3 L2039.1,885.0 L2042.1,884.7 L2045.1,884.4 L2048.1,884.1 L2051.1,883.8 L2054.1,883.5 L2057.1,883.2 L2060.1,882.9 L2063.1,882.6 L2066.1,882.3 L2069.1,882.0 L2072.1,881.7 L2075.1,881.4 L2078.1,881.2 L2081.1,880.9 L2084.1,880.6 L2087.1,880.3 L2090.1,880.0 L2093.1,879.8 L2096.1,879.5 L2099.1,879.2 L2102.1,878.9 L2105.1,878.6 L2108.1,878.4 L2111.1,878.1 L2114.1,877.8 L2117.1,877.5 L2120.1,877.2 L2123.1,877.0 L2126.1,876.7 L2129.1,876.5 L2132.1,876.2 L2135.1,876.0 L2138.1,875.8 L2141.1,875.6 L2144.1,875.4 L2147.1,875.2 L2150.2,875.1 L2153.2,874.9 L2156.2,874.8 L2159.2,874.6 L2162.2,874.5 L2165.2,874.3 L2168.2,874.2 L2171.2,874.0 L2174.2,873.9 L2177.2,873.8 L2180.2,873.6 L2183.2,873.5 L2186.2,873.3 L2189.2,873.2 L2192.2,873.0 L2195.2,872.8 L2198.2,872.7 L2201.2,872.5 L2204.2,872.4 L2207.2,872.2 L2210.2,872.1 L2213.2,871.9 L2216.2,871.8 L2219.2,871.6 L2222.2,871.5 L2225.2,871.4 L2228.2,871.3 L2231.2,871.2 L2234.2,871.1 L2237.2,871.0 L2240.2,870.9 L2243.2,870.8 L2246.2,870.7 L2249.2,870.6 L2252.2,870.5 L2255.2,870.4 L2258.2,870.3 L2261.2,870.3 L2264.2,870.2 L2267.2,870.1 L2270.3,870.1 L2273.3,870.0 L2276.3,869.9 L2279.3,869.9 L2282.3,869.8 L2285.3,869.8 L2288.3,869.7 L2291.3,869.7 L2294.3,869.6 L2297.3,869.6 L2300.3,869.5 L2303.3,869.5 L2306.3,869.5 L2309.3,869.4 L2312.3,869.4 L2315.3,869.4 L2318.3,869.3 L2321.3,869.3 L2324.3,869.3 L2327.3,869.2 L2330.3,869.2"/>
</g>
<path class="fr" d="M1713,143H1716V1323H1713ZM2329,143H2331V1323H2329ZM1713,143H2331V146H1713ZM1713,1320H2331V1323H1713ZM1836,146H1839V156H1836ZM1836,1309H1839V1320H1836ZM1959,146H1962V156H1959ZM1959,1309H1962V1320H1959ZM2082,146H2085V156H2082ZM2082,1309H2085V1320H2082ZM2205,146H2208V156H2205ZM2205,1309H2208V1320H2205Z"/>
<path class="ht" d="M1716,1123.93H1726V1126.43H1716ZM2318,1123.93H2329V1126.43H2318ZM1716,927.82H1726V930.32H1716ZM2318,927.82H2329V930.32H2318ZM1716,731.70H1726V734.20H1716ZM2318,731.70H2329V734.20H2318ZM1716,535.58H1726V538.08H1716ZM2318,535.58H2329V538.08H2318ZM1716,339.47H1726V341.97H1716ZM2318,339.47H2329V341.97H2318Z"/>
<text class="tk" text-anchor="end" transform="translate(1703.8,1346.2) scale(1.0,1.042)">0</text>
<text class="tk" clip-path="url(#nofoot)" transform="translate(1669.3,1149.0) scale(1.0,1.042)">1</text>
<text class="tk" text-anchor="end" transform="translate(1703.8,953.5) scale(1.0,1.042)">2</text>
<text class="tk" text-anchor="end" transform="translate(1703.8,757.3) scale(1.0,1.042)">3</text>
<text class="tk" text-anchor="end" transform="translate(1703.8,560.9) scale(1.0,1.042)">4</text>
<text class="tk" text-anchor="end" transform="translate(1703.8,365.1) scale(1.0,1.042)">5</text>
<text class="tk" text-anchor="end" transform="translate(1703.8,169.3) scale(1.0,1.042)">6</text>
<text class="tk" clip-path="url(#nofoot)" transform="translate(1698.4,1392.1) scale(1.0,1.042)">1</text>
<text class="tk" text-anchor="middle" transform="translate(1837.7,1392.1) scale(1.0,1.042)">0.8</text>
<text class="tk" text-anchor="middle" transform="translate(1960.7,1392.1) scale(1.0,1.042)">0.6</text>
<text class="tk" text-anchor="middle" transform="translate(2083.7,1392.1) scale(1.0,1.042)">0.4</text>
<text class="tk" text-anchor="middle" transform="translate(2206.7,1392.1) scale(1.0,1.042)">0.2</text>
<text class="tk" text-anchor="middle" transform="translate(2330.2,1392.1) scale(1.0,1.042)">0</text>
<text class="tl" transform="translate(2021.4,1467.8) scale(1.38,1.12)">t</text>
<text class="pl" transform="translate(1692.3,93.7) scale(1.012,0.985)">(c)</text>
<path class="fr" fill-rule="evenodd" d="M1731,162H2001V332H1731ZM1734,164H1999V329H1734Z"/>
<path class="fr" d="M1752,204H1857V211H1752ZM1752,283H1774V289H1752ZM1795,283H1817V289H1795ZM1838,283H1857V289H1838Z"/>
<text class="tk" transform="translate(1868.0,231.0) scale(1.0,1.042)">E</text>
<text class="tk" transform="translate(1868.0,308.8) scale(1.0,1.042)">E[9]</text>
</g>
</svg>
</body>
</html>
